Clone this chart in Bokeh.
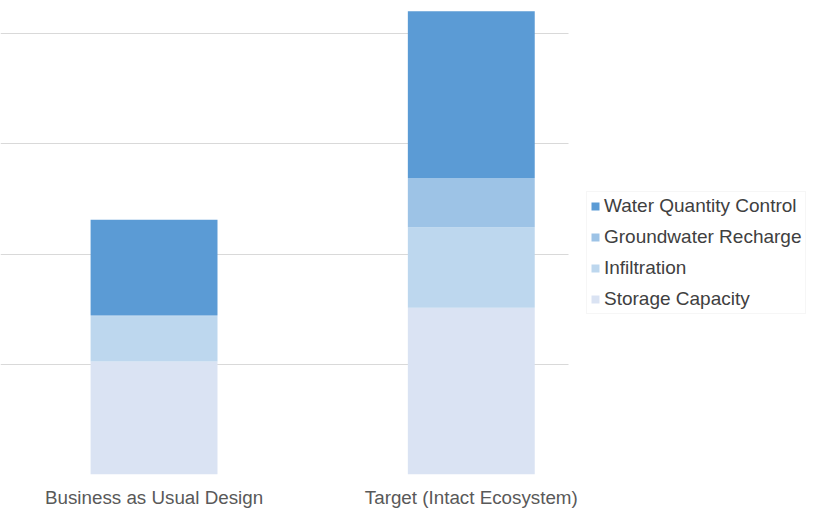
from bokeh.plotting import figure
from bokeh.models import ColumnDataSource, Legend, LegendItem, FixedTicker, Range1d, Grid
from bokeh.embed import file_html
from bokeh.resources import INLINE

categories = ["Business as Usual Design", "Target (Intact Ecosystem)"]
series = ["Storage Capacity", "Infiltration", "Groundwater Recharge", "Water Quantity Control"]
storage_capacity = [1.025, 1.513]
infiltration = [0.41, 0.731]
groundwater_recharge = [0.012, 0.445]
water_quantity_control = [0.865, 1.513]
colors = ["#DAE3F3", "#BDD7EE", "#9DC3E6", "#5B9BD5"]
grid_ticks = [0, 1, 2, 3, 4]

xpos = [1, 2]
src = ColumnDataSource(dict(
    x=xpos,
    **{"Storage Capacity": storage_capacity,
       "Infiltration": infiltration,
       "Groundwater Recharge": groundwater_recharge,
       "Water Quantity Control": water_quantity_control},
))

X0, X1, XG = 0.516, 3.085, 2.307
p = figure(width=815, height=510, output_backend="svg", toolbar_location=None,
           x_range=Range1d(X0, X1), y_range=Range1d(0, 4.30),
           min_border_left=0, min_border_top=0, min_border_right=0, min_border_bottom=36)
p.outline_line_color = None
p.background_fill_color = "white"
p.border_fill_color = "white"

p.yaxis.visible = False
p.xgrid.visible = False
if "cross_bounds" in Grid.properties():
    p.ygrid.ticker = FixedTicker(ticks=grid_ticks)
    p.ygrid.grid_line_color = "#D9D9D9"
    p.ygrid.grid_line_width = 1
    p.ygrid.cross_bounds = (X0, XG)
else:
    p.ygrid.visible = False
    n = len(grid_ticks)
    p.segment(x0=[X0] * n, x1=[XG] * n, y0=grid_ticks, y1=grid_ticks,
              line_color="#D9D9D9", line_width=1)

renderers = p.vbar_stack(series, x="x", width=0.40, source=src, color=colors, line_color=None)

p.xaxis.ticker = FixedTicker(ticks=xpos)
p.xaxis.major_label_overrides = {1: categories[0], 2: categories[1]}
p.xaxis.axis_line_color = None
p.xaxis.major_tick_line_color = None
p.xaxis.minor_tick_line_color = None
p.xaxis.major_tick_out = 0
p.xaxis.major_tick_in = 0
p.xaxis.major_label_standoff = 12
p.xaxis.major_label_text_font = "Liberation Sans"
p.xaxis.major_label_text_font_size = "18.8px"
p.xaxis.major_label_text_color = "#595959"

items = [LegendItem(label=s, renderers=[r]) for s, r in zip(series, renderers)][::-1]
legend = Legend(items=items, location=(586, 160))
legend.label_text_font = "Liberation Sans"
legend.label_text_font_size = "19px"
legend.label_text_color = "#404040"
legend.glyph_width = 10
legend.glyph_height = 10
legend.label_standoff = 4
legend.label_height = 19
legend.spacing = 9
legend.padding = 3
legend.margin = 0
legend.border_line_color = "#EEEEEE"
legend.background_fill_alpha = 1
p.add_layout(legend, "center")

open("out.html", "w").write(file_html(p, INLINE))
